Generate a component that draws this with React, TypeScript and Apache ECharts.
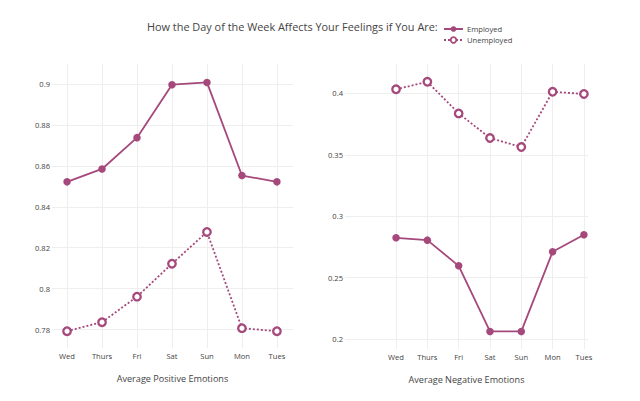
import React, { useEffect, useRef } from "react";
import * as echarts from "echarts";

const days = ["Wed", "Thurs", "Fri", "Sat", "Sun", "Mon", "Tues"];
const posEmployed = [0.8522, 0.8585, 0.8738, 0.8997, 0.9008, 0.8553, 0.8522];
const posUnemployed = [0.7792, 0.7836, 0.7961, 0.8122, 0.8277, 0.7807, 0.7792];
const negEmployed = [0.2824, 0.2805, 0.2596, 0.2062, 0.2062, 0.271, 0.2849];
const negUnemployed = [0.4033, 0.4094, 0.3837, 0.3636, 0.3563, 0.4013, 0.3995];
const posTicks = [0.78, 0.8, 0.82, 0.84, 0.86, 0.88, 0.9];
const negTicks = [0.2, 0.25, 0.3, 0.35, 0.4];

const COLOR = "#a5487c";
const FONT = "Open Sans";
const TEXT = "#444";

const pts = (vals: number[]) => vals.map((v, i) => [i, v]);

export default function App() {
  const ref = useRef<HTMLDivElement>(null);
  useEffect(() => {
    if (!ref.current) return;
    const chart = echarts.init(ref.current, null, { renderer: "svg" });
    const dayIdx = days.map((_, i) => i);
    const xAxis = (gridIndex: number, min: number, max: number, name: string) => ({
      type: "value",
      gridIndex,
      min,
      max,
      name,
      nameLocation: "middle",
      nameGap: 26,
      nameTextStyle: { fontFamily: FONT, fontSize: 9.1, color: TEXT },
      axisLine: { show: false },
      axisTick: { show: false, customValues: dayIdx },
      axisLabel: {
        customValues: dayIdx,
        formatter: (v: number) => days[Math.round(v)] ?? "",
        fontFamily: FONT,
        fontSize: 7.6,
        color: TEXT,
        margin: 4,
      },
      splitLine: { show: true, lineStyle: { color: "#eeeeee", width: 1 } },
    });
    const yAxis = (gridIndex: number, min: number, max: number, ticks: number[]) => ({
      type: "value",
      gridIndex,
      min,
      max,
      axisLine: { show: false },
      axisTick: { show: false, customValues: ticks },
      axisLabel: {
        customValues: ticks,
        formatter: (v: number) => String(parseFloat(v.toFixed(4))),
        fontFamily: FONT,
        fontSize: 7.6,
        color: TEXT,
        margin: 2,
      },
      splitLine: { show: true, lineStyle: { color: "#eeeeee", width: 1 } },
    });
    const employed = (xi: number, vals: number[]) => ({
      name: "Employed",
      type: "line",
      xAxisIndex: xi,
      yAxisIndex: xi,
      data: pts(vals),
      symbol: "circle",
      symbolSize: 7.5,
      color: COLOR,
      lineStyle: { color: COLOR, width: 1.8 },
      itemStyle: { color: COLOR },
    });
    const unemployed = (xi: number, vals: number[]) => ({
      name: "Unemployed",
      type: "line",
      xAxisIndex: xi,
      yAxisIndex: xi,
      data: pts(vals),
      symbol: "circle",
      symbolSize: 7.5,
      color: COLOR,
      lineStyle: { color: COLOR, width: 1.8, type: [2, 2] },
      itemStyle: { color: "#ffffff", borderColor: COLOR, borderWidth: 2.3 },
    });
    chart.setOption({
      animation: false,
      backgroundColor: "#ffffff",
      title: {
        text: "How the Day of the Week Affects Your Feelings if You Are:",
        left: 147,
        top: 21,
        padding: 0,
        textStyle: { fontFamily: FONT, fontSize: 10.9, fontWeight: "normal", color: TEXT },
      },
      legend: {
        orient: "vertical",
        left: 443,
        top: 24,
        padding: 0,
        itemGap: 1,
        itemWidth: 19,
        itemHeight: 7,
        itemStyle: { borderWidth: 1.8 },
        textStyle: { fontFamily: FONT, fontSize: 7.6, color: TEXT, lineHeight: 10, padding: [0, 0, 0, -1] },
        data: ["Employed", "Unemployed"],
      },
      grid: [
        { left: 52, top: 64, width: 241, height: 284 },
        { left: 345, top: 64, width: 243, height: 285 },
      ],
      xAxis: [
        xAxis(0, -0.43, 6.46, "Average Positive Emotions"),
        xAxis(1, -1.63, 6.13, "Average Negative Emotions"),
      ],
      yAxis: [yAxis(0, 0.771, 0.9098, posTicks), yAxis(1, 0.1919, 0.4239, negTicks)],
      series: [
        employed(0, posEmployed),
        unemployed(0, posUnemployed),
        employed(1, negEmployed),
        unemployed(1, negUnemployed),
      ],
    });
    return () => chart.dispose();
  }, []);
  return <div ref={ref} style={{ width: 640, height: 401, margin: -8 }} />;
}
